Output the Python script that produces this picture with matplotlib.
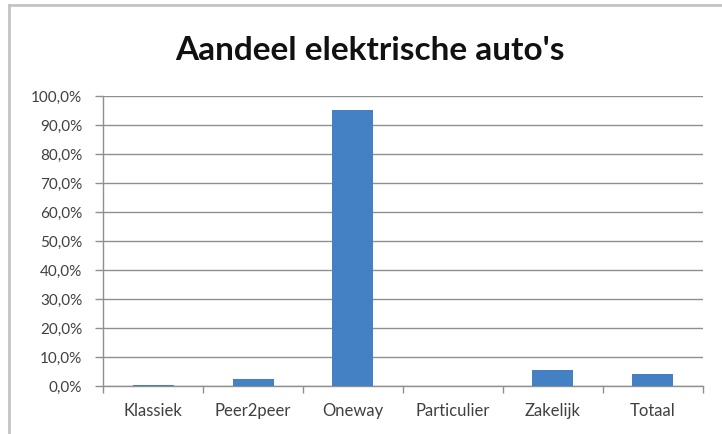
import matplotlib.pyplot as plt
from matplotlib.lines import Line2D
from matplotlib.ticker import FuncFormatter, MultipleLocator
import numpy as np

# Aandeel elektrische auto's per type autodelen
categories = ["Klassiek", "Peer2peer", "Oneway", "Particulier", "Zakelijk", "Totaal"]
shares = [0.5, 2.5, 95.2, 0.0, 5.6, 4.0]

bar_color = "#4480c4"
grid_color = "#8f8f8f"
text_color = "#404040"

plt.rcParams['font.family'] = ['Lato', 'DejaVu Sans']

fig = plt.figure(figsize=(7.22, 4.34), dpi=100)
ax = fig.add_axes([103 / 722, 1 - 386 / 434, 600 / 722, 290 / 434])

x = np.arange(len(categories))
ax.bar(x, shares, width=0.41, color=bar_color, zorder=3)

ax.set_xlim(-0.5, len(categories) - 0.5)
ax.set_ylim(0, 100)
ax.yaxis.set_major_locator(MultipleLocator(10))
ax.yaxis.set_major_formatter(FuncFormatter(lambda v, _: f"{v:.1f}%".replace(".", ",")))
ax.grid(axis='y', color=grid_color, linewidth=1.0, zorder=0)

ax.set_xticks(x)
ax.set_xticklabels(categories)
ax.set_xticks(np.arange(-0.5, len(categories)), minor=True)
ax.tick_params(axis='x', which='major', length=0, pad=12, labelsize=12, labelcolor=text_color)
ax.tick_params(axis='x', which='minor', length=5, width=1, color=grid_color)
ax.tick_params(axis='y', length=6, width=1, color=grid_color, pad=9, labelsize=11, labelcolor=text_color)

for side in ('top', 'right'):
    ax.spines[side].set_visible(False)
for side in ('left', 'bottom'):
    ax.spines[side].set_color(grid_color)
    ax.spines[side].set_linewidth(1.0)

fig.text(370 / 722, 1 - 50 / 434, "Aandeel elektrische auto's", ha='center', va='center',
         fontsize=24, fontweight='bold', color='#111111')

# outer chart frame
fig.add_artist(Line2D([9 / 722, 1.0], [1 - 5 / 434, 1 - 5 / 434], color='#c4c4c4', linewidth=2))
fig.add_artist(Line2D([9 / 722, 9 / 722], [0.0, 1 - 5 / 434], color='#c4c4c4', linewidth=2))

fig.savefig("out.png", dpi=100)
